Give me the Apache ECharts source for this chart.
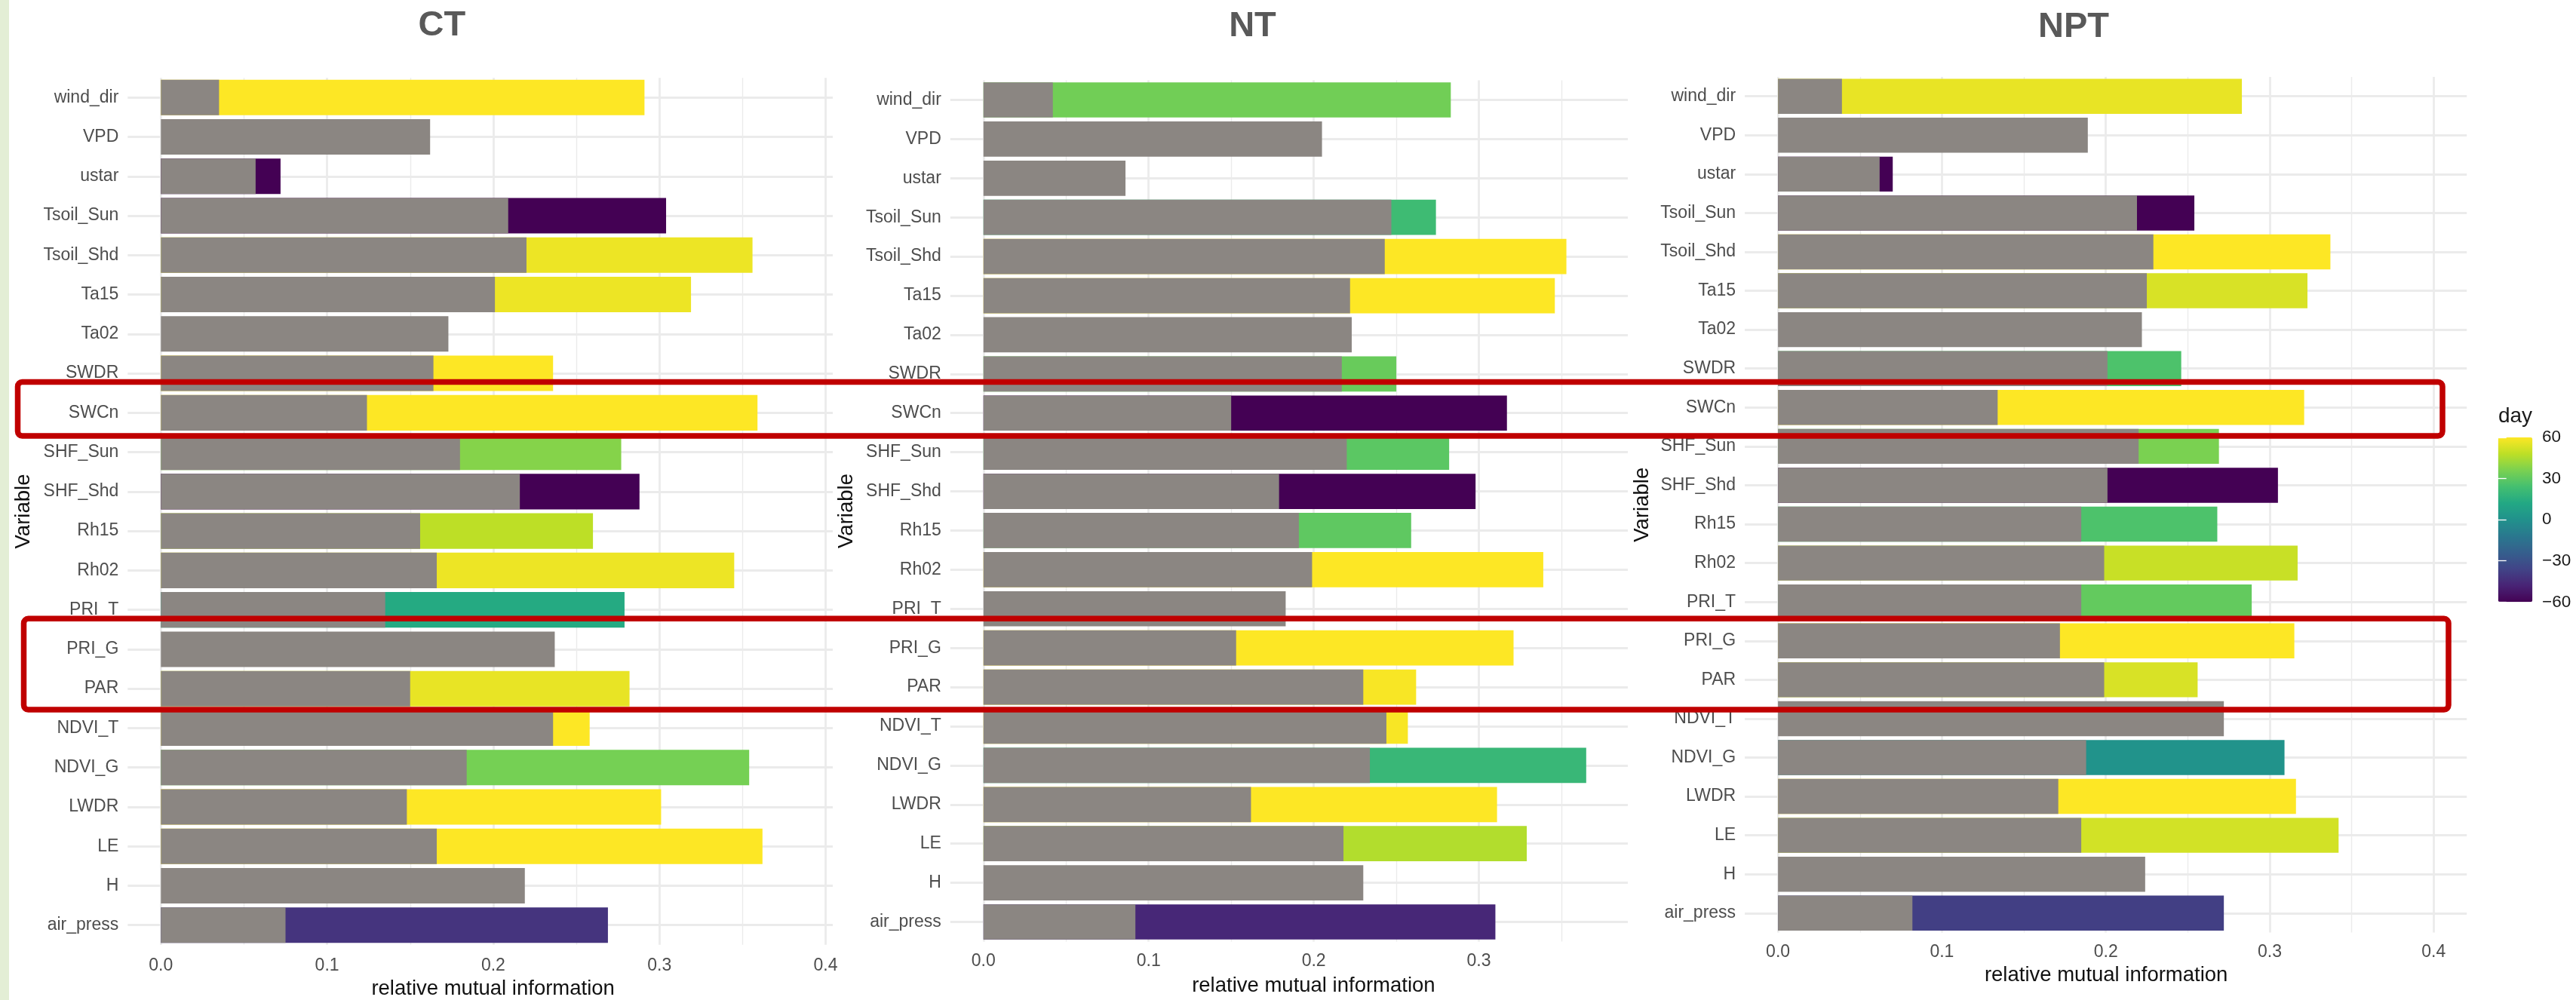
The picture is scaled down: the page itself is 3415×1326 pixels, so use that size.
<!DOCTYPE html>
<html>
<head>
<meta charset="utf-8">
<title>Relative mutual information by variable — CT / NT / NPT</title>
<script src="https://cdn.jsdelivr.net/npm/echarts@6/dist/echarts.min.js"></script>
<style>
  html, body { margin: 0; padding: 0; background: #ffffff; }
  #chart { width: 3415px; height: 1326px; }
</style>
</head>
<body>
<div id="chart"></div>
<script>
// ---------------------------------------------------------------------------
// Data: relative mutual information per driver variable.
// *Base = value at zero lag (grey bar), *Peak = best value over all lags,
// *Day = lag (days) at which the peak occurs (null = no lagged gain).
// ---------------------------------------------------------------------------
const variables = ['wind_dir', 'VPD', 'ustar', 'Tsoil_Sun', 'Tsoil_Shd', 'Ta15', 'Ta02',
  'SWDR', 'SWCn', 'SHF_Sun', 'SHF_Shd', 'Rh15', 'Rh02', 'PRI_T', 'PRI_G', 'PAR',
  'NDVI_T', 'NDVI_G', 'LWDR', 'LE', 'H', 'air_press'];

const ctBase = [0.035, 0.162, 0.057, 0.209, 0.220, 0.201, 0.173, 0.164, 0.124, 0.180, 0.216,
  0.156, 0.166, 0.135, 0.237, 0.150, 0.236, 0.184, 0.148, 0.166, 0.219, 0.075];
const ctPeak = [0.291, null, 0.072, 0.304, 0.356, 0.319, null, 0.236, 0.359, 0.277, 0.288,
  0.260, 0.345, 0.279, null, 0.282, 0.258, 0.354, 0.301, 0.362, null, 0.269];
const ctDay = [60, null, -60, -60, 57, 57, null, 60, 60, 38, -60,
  48, 57, 13, null, 56, 60, 35, 60, 60, null, -42];

const ntBase = [0.042, 0.205, 0.086, 0.247, 0.243, 0.222, 0.223, 0.217, 0.150, 0.220, 0.179,
  0.191, 0.199, 0.183, 0.153, 0.230, 0.244, 0.234, 0.162, 0.218, 0.230, 0.092];
const ntPeak = [0.283, null, null, 0.274, 0.353, 0.346, null, 0.250, 0.317, 0.282, 0.298,
  0.259, 0.339, null, 0.321, 0.262, 0.257, 0.365, 0.311, 0.329, null, 0.310];
const ntDay = [34, null, null, 22, 60, 60, null, 32, -60, 29, -60,
  30, 60, null, 60, 59, 59, 20, 60, 46, null, -47];

const nptBase = [0.039, 0.189, 0.062, 0.219, 0.229, 0.225, 0.222, 0.201, 0.134, 0.220, 0.201,
  0.185, 0.199, 0.185, 0.172, 0.199, 0.272, 0.188, 0.171, 0.185, 0.224, 0.082];
const nptPeak = [0.283, null, 0.070, 0.254, 0.337, 0.323, null, 0.246, 0.321, 0.269, 0.305,
  0.268, 0.317, 0.289, 0.315, 0.256, null, 0.309, 0.316, 0.342, null, 0.272];
const nptDay = [56, null, -60, -60, 60, 53, null, 26, 60, 36, -60,
  26, 50, 31, 60, 53, null, 1, 60, 52, null, -38];

const panelTitles = ['CT', 'NT', 'NPT'];
const miTickStep = 0.1;          // x axis breaks: 0.0, 0.1, ... 0.4
const dayRange = [-60, 60];      // colour bar limits
const dayStep = 30;              // colour bar breaks

// ---------------------------------------------------------------------------
// Styling and layout
// ---------------------------------------------------------------------------
const FONT = '"Liberation Sans", Arial, Helvetica, sans-serif';
const BAR_GREY = '#8b8682';
const GRID_COLOR = '#ebebeb';
const TICK_TEXT = '#4d4d4d';
const VIRIDIS = ['#440154', '#482475', '#414487', '#355f8d', '#2a788e', '#21918c',
  '#22a884', '#44bf70', '#7ad151', '#bddf26', '#fde725'];

const panelData = [
  { base: ctBase, peak: ctPeak, day: ctDay },
  { base: ntBase, peak: ntPeak, day: ntDay },
  { base: nptBase, peak: nptPeak, day: nptDay }
];

const panelLayout = [
  { grid: { left: 213.3, top: 103.2, width: 890.7, height: 1149.6 }, xMax: 0.4043,
    titleX: 585.8, titleTop: 10.3, labelMargin: 16.7, nameGap: 44.5, namePad: [0, 10, 0, 0], yNameGap: 168 },
  { grid: { left: 1303.8, top: 106.55, width: 854.2, height: 1141.9 }, xMax: 0.3902,
    titleX: 1660.5, titleTop: 12, labelMargin: 15, nameGap: 44.5, namePad: [0, 0, 0, 21], yNameGap: 167 },
  { grid: { left: 2357.1, top: 101.9, width: 913.1, height: 1134.7 }, xMax: 0.4202,
    titleX: 2749, titleTop: 12.8, labelMargin: 14.6, nameGap: 42.6, namePad: [0, 43, 0, 0], yNameGap: 166 }
];

const colourBar = { left: 3311.7, top: 580, width: 45.6, height: 218.3 };

function isBreak(v) {
  return v >= -1e-9 && Math.abs(v / miTickStep - Math.round(v / miTickStep)) < 1e-6;
}
function signed(v) {
  return v < 0 ? '\u2212' + Math.abs(v) : String(v);
}

const grids = [], xAxes = [], yAxes = [], series = [], titles = [];
const peakSeriesIndex = [];

panelData.forEach(function (p, i) {
  const L = panelLayout[i];
  titles.push({
    text: panelTitles[i], left: L.titleX, top: L.titleTop, textAlign: 'center', padding: 0,
    textStyle: { fontFamily: FONT, fontSize: 47, fontWeight: 'bold', color: '#595959', lineHeight: 47 }
  });
  grids.push(Object.assign({ containLabel: false, outerBoundsMode: 'none' }, L.grid));
  xAxes.push({
    gridIndex: i, type: 'value', min: 0, max: L.xMax, interval: miTickStep,
    axisLine: { show: false }, axisTick: { show: false },
    axisLabel: {
      margin: L.labelMargin, fontFamily: FONT, fontSize: 23, color: TICK_TEXT,
      showMaxLabel: false,
      formatter: function (v) { return isBreak(v) ? v.toFixed(1) : ''; }
    },
    splitLine: { show: true, showMaxLine: false, lineStyle: { color: GRID_COLOR, width: 2.8 } },
    minorTick: { show: false, splitNumber: 2 },
    minorSplitLine: { show: true, lineStyle: { color: GRID_COLOR, width: 1.4 } },
    name: 'relative mutual information', nameLocation: 'middle', nameGap: L.nameGap,
    nameTextStyle: { fontFamily: FONT, fontSize: 27.5, color: '#111111', padding: L.namePad }
  });
  yAxes.push({
    gridIndex: i, type: 'category', data: variables, inverse: true,
    axisLine: { show: false },
    axisTick: { show: true, alignWithLabel: true, interval: 0, length: 44,
      lineStyle: { color: GRID_COLOR, width: 3 } },
    axisLabel: { interval: 0, margin: 56, fontFamily: FONT, fontSize: 23, color: TICK_TEXT },
    splitLine: { show: false },
    name: 'Variable', nameLocation: 'middle', nameRotate: 90, nameGap: L.yNameGap,
    nameTextStyle: { fontFamily: FONT, fontSize: 27.5, color: '#111111' }
  });

  // lagged peak (coloured by lag day), drawn first
  peakSeriesIndex.push(series.length);
  series.push({
    type: 'bar', name: panelTitles[i] + ' peak', xAxisIndex: i, yAxisIndex: i,
    data: variables.map(function (v, k) { return [p.peak[k], v, p.day[k]]; }),
    encode: { x: 0, y: 1 },
    barWidth: '90%', barGap: '-100%',
    emphasis: { disabled: true }, silent: true
  });
  // zero-lag value in grey on top
  series.push({
    type: 'bar', name: panelTitles[i] + ' lag 0', xAxisIndex: i, yAxisIndex: i,
    data: p.base,
    barWidth: '90%', barGap: '-100%',
    itemStyle: { color: BAR_GREY },
    emphasis: { disabled: true }, silent: true,
    markLine: {
      silent: true, z: 1, symbol: ['none', 'none'], animation: false,
      label: { show: false },
      lineStyle: { color: GRID_COLOR, width: 3, type: 'solid' },
      emphasis: { disabled: true },
      data: variables.map(function (v) { return { yAxis: v }; })
    }
  });
});

// colour bar axes (labels + white break ticks)
grids.push(Object.assign({ containLabel: false, outerBoundsMode: 'none' }, colourBar));
xAxes.push({ gridIndex: 3, type: 'value', min: 0, max: 1, show: false });
yAxes.push({
  gridIndex: 3, type: 'value', position: 'right', min: dayRange[0], max: dayRange[1], interval: dayStep,
  z: 10, axisLine: { show: false }, splitLine: { show: false },
  axisTick: { show: true, inside: true, length: 11, lineStyle: { color: '#ffffff', width: 1.3 } },
  axisLabel: { margin: 12.7, fontFamily: FONT, fontSize: 22.5, color: '#1a1a1a', formatter: signed }
});
yAxes.push({
  gridIndex: 3, type: 'value', position: 'left', min: dayRange[0], max: dayRange[1], interval: dayStep,
  z: 10, axisLine: { show: false }, splitLine: { show: false }, axisLabel: { show: false },
  axisTick: { show: true, inside: true, length: 11, lineStyle: { color: '#ffffff', width: 1.3 } },
  name: 'day', nameLocation: 'end', nameGap: 14,
  nameTextStyle: { fontFamily: FONT, fontSize: 28, color: '#1a1a1a', padding: [0, 0, 0, colourBar.width] }
});

const option = {
  backgroundColor: '#ffffff',
  animation: false,
  title: titles,
  grid: grids,
  xAxis: xAxes,
  yAxis: yAxes,
  visualMap: {
    type: 'continuous', min: dayRange[0], max: dayRange[1], dimension: 2,
    seriesIndex: peakSeriesIndex, calculable: false, hoverLink: false, realtime: false,
    orient: 'vertical', left: colourBar.left, top: colourBar.top, padding: 0,
    itemWidth: colourBar.width, itemHeight: colourBar.height,
    inRange: { color: VIRIDIS },
    textStyle: { fontFamily: FONT }
  },
  graphic: [
    { type: 'rect', silent: true, z: -10, shape: { x: 0, y: 0, width: 12, height: 1326 },
      style: { fill: '#e3eed5' } },
    { type: 'rect', silent: true, z: 100, shape: { x: 23.5, y: 506.5, width: 3214.5, height: 71.5, r: 6 },
      style: { fill: null, stroke: '#c00000', lineWidth: 7.5 } },
    { type: 'rect', silent: true, z: 100, shape: { x: 31.5, y: 820.3, width: 3214.5, height: 120.7, r: 6 },
      style: { fill: null, stroke: '#c00000', lineWidth: 7.5 } }
  ],
  series: series
};

const chart = echarts.init(document.getElementById('chart'), null, { renderer: 'canvas' });
chart.setOption(option);
</script>
</body>
</html>
